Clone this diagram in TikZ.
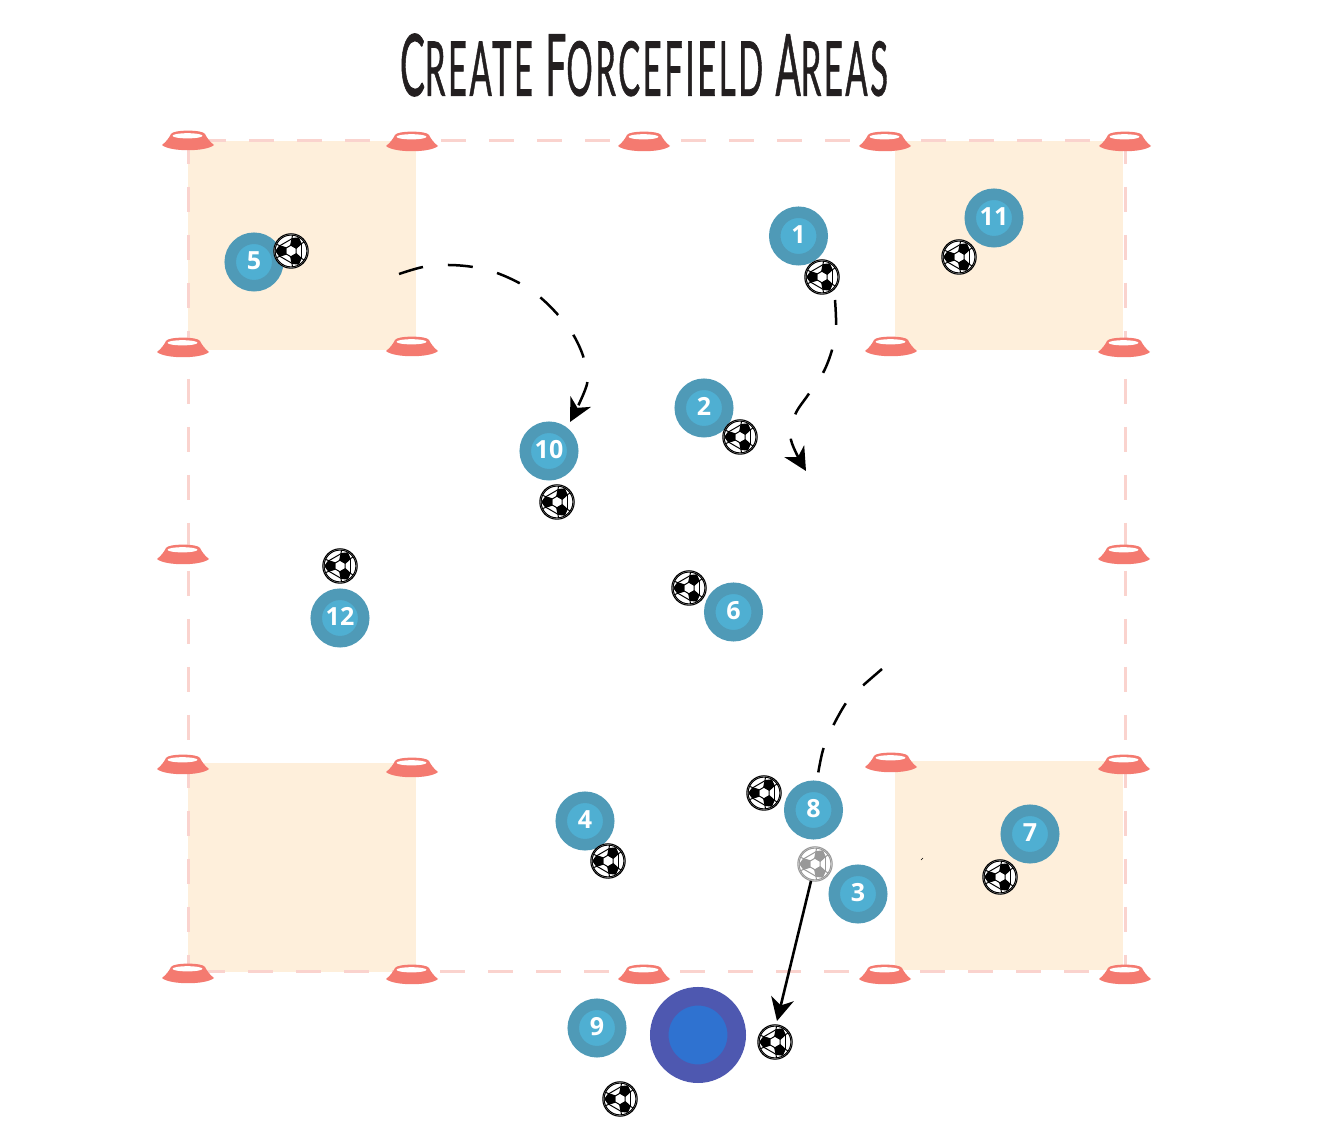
\documentclass[tikz,border=0pt]{standalone}
\usepackage{fontspec}
\usepackage{graphicx}
\usetikzlibrary{arrows.meta}
\setmainfont{Open Sans}
\newfontfamily\titlefont[FakeBold=1.2,LetterSpace=8]{Lato}
\definecolor{peach}{HTML}{FEEFDB}
\definecolor{fieldline}{HTML}{FAD3CE}
\definecolor{conered}{HTML}{F47A70}
\definecolor{playerout}{HTML}{4F9AB7}
\definecolor{playerin}{HTML}{4FAFD2}
\definecolor{keepout}{HTML}{4E58B0}
\definecolor{keepin}{HTML}{2F72D0}
\definecolor{titleink}{HTML}{231F20}
\newcommand{\ballart}[1]{%
  \fill[white] (0,0) circle[radius=17.5];
  \draw[#1,line width=.55pt] (0,0) circle[radius=17.2];
  \draw[#1,line width=.5pt] (0,0) circle[radius=15.9];
  \draw[#1,line width=.5pt] (30:5.8)--(90:5.8)--(150:5.8)--(210:5.8)--(270:5.8)--(330:5.8)--cycle;
  \foreach \a in {180,60,-60}{
    \fill[#1,shift={(\a:9.6)}] (\a:6.2)--(\a+72:6.2)--(\a+144:6.2)--(\a+216:6.2)--(\a+288:6.2)--cycle;
    \draw[#1,line width=.5pt] (\a-25:12.4)--(\a-25:15.9);
    \draw[#1,line width=.5pt] (\a+25:12.4)--(\a+25:15.9);
    \draw[#1,line width=.5pt] (\a-25:12.4)--(\a-95:12.4);
  }
}
\newcommand{\pn}[1]{\raisebox{1.6pt}{#1}}
\tikzset{
  x=.5pt,y=-.5pt,
  conepic/.pic={
    \fill[conered] (-26,4) .. controls (-22,1) and (-19,-3) .. (-17,-7) .. controls (-15,-11.5) and (15,-11.5) .. (17,-7) .. controls (19,-3) and (22,1) .. (26,4) .. controls (18,11) and (-18,11) .. (-26,4) -- cycle;
    \fill[white] (-.5,-5.2) ellipse[x radius=15,y radius=2.6];
  },
  ballpic/.pic={\ballart{black}},
  greyballpic/.pic={\ballart{black!40}},
  player/.style={circle,fill=playerin,draw=playerout,line width=5.75pt,minimum size=23.75pt,inner sep=0pt,text=white,font=\fontsize{12.5}{13}\selectfont\bfseries},
  keeper/.style={circle,fill=keepin,draw=keepout,line width=9.25pt,minimum size=38.75pt,inner sep=0pt},
  grid square/.style={fill=peach},
  field edge/.style={draw=fieldline,line width=1.5pt,dash pattern=on 12.5pt off 11.5pt},
  run/.style={draw=black,line width=1.25pt,line cap=butt,dash pattern=on 12.5pt off 12.5pt},
  dribble/.style={draw=black,line width=1.3pt,-{Stealth[length=11.5pt,width=11.5pt,inset=3.5pt]}},
  dribblecurve/.style={run,-{Stealth[length=11.5pt,width=11.5pt,inset=3.5pt]}},
}
\begin{document}
\begin{tikzpicture}
\useasboundingbox (0,0) rectangle (1330,1138);
\fill[white] (0,0) rectangle (1330,1138);
% title
\node[text=titleink,inner sep=0pt] (title) at (644,65) {\resizebox{244pt}{31pt}{\titlefont\fontsize{42}{44}\selectfont C{\fontsize{37}{40}\selectfont REATE} F{\fontsize{37}{40}\selectfont ORCEFIELD} A{\fontsize{37}{40}\selectfont REAS}}};
% forcefield squares
\fill[grid square] (188,141) rectangle (416,350);
\fill[grid square] (895,141) rectangle (1123,350);
\fill[grid square] (188,763) rectangle (416,972);
\fill[grid square] (895,761) rectangle (1123,970);
% field boundary
\coordinate (ctl) at (201,141); \coordinate (ctr) at (1125,141);
\coordinate (cbl) at (200,972); \coordinate (cbr) at (1125,972);
\coordinate (cl1) at (188,139); \coordinate (cl2) at (188,972);
\coordinate (cr1) at (1125,139); \coordinate (cr2) at (1125,972);
\path[field edge] (ctl) -- (ctr);
\path[field edge] (cbl) -- (cbr);
\path[field edge] (cl1) -- (cl2);
\path[field edge] (cr1) -- (cr2);
% cones
\foreach \cx/\cy in {188/141,412/142,644/142,885/142,1125/142,
  183/348,412/347,891/347,1124/348,183/555,1124/555,
  183/765,412/768,891/763,1124/765,
  188/974,412/975,644/975,885/975,1125/975}{
  \pic at (\cx,\cy) {conepic};
}
% players
\node[player] (p1) at (798.5,236) {\pn{1}};
\node[player] (p2) at (704,408) {\pn{2}};
\node[player] (p3) at (858,894) {\pn{3}};
\node[player] (p4) at (585,821) {\pn{4}};
\node[player] (p5) at (254,262) {\pn{5}};
\node[player] (p6) at (733.5,612) {\pn{6}};
\node[player] (p7) at (1030,834) {\pn{7}};
\node[player] (p8) at (813.5,810) {\pn{8}};
\node[player] (p9) at (597,1028) {\pn{9}};
\node[player] (p10) at (549,451) {\pn{10}};
\node[player] (p11) at (994,218) {\pn{11}};
\node[player] (p12) at (340,618) {\pn{12}};
\node[keeper] (keeper) at (698,1035) {};
% balls
\foreach \bx/\by in {291/251,822/277,959/257,740/437,557/502,340/566,689/588,764/793,1000/877,608/861,775/1042,620/1099}{
  \pic at (\bx,\by) {ballpic};
}
\pic at (815,864) {greyballpic};
% speck
\draw[black,line width=.3pt] (921,860) -- (923,858);
% connectors
\coordinate (a1) at (399,274); \coordinate (a2) at (423,267); \coordinate (a3) at (448,265);
\coordinate (a4) at (473,267); \coordinate (a5) at (497,273); \coordinate (a6) at (521,284);
\coordinate (a7) at (541,298); \coordinate (a8) at (559,316); \coordinate (a9) at (574,336);
\coordinate (a10) at (584,359); \coordinate (a11) at (587,384); \coordinate (a12) at (570,422);
\draw[dribblecurve] plot[smooth,tension=.55] coordinates {(a1)(a2)(a3)(a4)(a5)(a6)(a7)(a8)(a9)(a10)(a11)(a12)};
\coordinate (b1) at (835,300); \coordinate (b2) at (836,326); \coordinate (b3) at (832,350);
\coordinate (b4) at (823,373); \coordinate (b5) at (808,395); \coordinate (b6) at (795,415);
\coordinate (b7) at (791,440); \coordinate (b8) at (806,471);
\draw[dribblecurve] plot[smooth,tension=.55] coordinates {(b1)(b2)(b3)(b4)(b5)(b6)(b7)(b8)};
\coordinate (c1) at (882,669); \coordinate (c2) at (858,690); \coordinate (c3) at (846,703);
\coordinate (c4) at (832,728); \coordinate (c5) at (823,750); \coordinate (c6) at (818,774);
\draw[run] plot[smooth,tension=.55] coordinates {(c1)(c2)(c3)(c4)(c5)(c6)};
\coordinate (d1) at (811,881); \coordinate (d2) at (777,1021);
\draw[dribble] (d1) -- (d2);
\end{tikzpicture}
\end{document}
